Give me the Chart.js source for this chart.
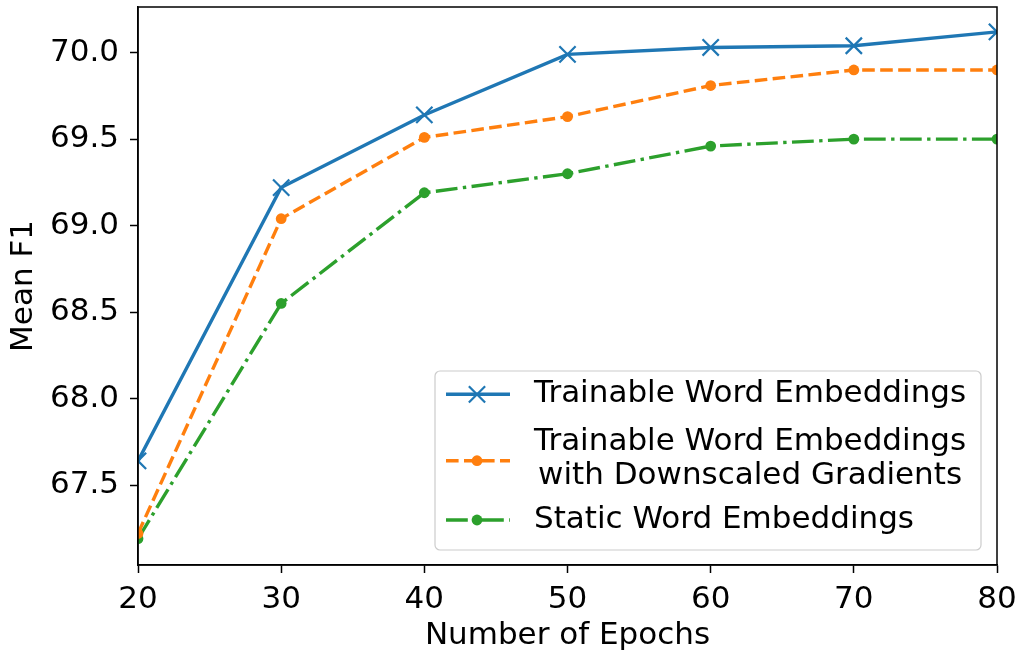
<!DOCTYPE html>
<html lang="en">
  <head>
    <meta charset="UTF-8" />
    <title>Mean F1 vs Number of Epochs</title>
    <style>
      body { margin: 0; background: #fff; }
      #wrap { width: 1019px; height: 652px; }
    </style>
  </head>
  <body>
    <div id="wrap"><canvas id="graphic"></canvas></div>
    <script src="https://cdn.jsdelivr.net/npm/chart.js"></script>
    <script>
      // datos
      const epochs = [20, 30, 40, 50, 60, 70, 80];
      const trainable = [67.64, 69.22, 69.64, 69.99, 70.03, 70.04, 70.12];
      const downscaled = [67.22, 69.04, 69.51, 69.63, 69.81, 69.9, 69.9];
      const staticEmb = [67.19, 68.55, 69.19, 69.3, 69.46, 69.5, 69.5];
      const seriesNames = [
        "Trainable Word Embeddings",
        "Trainable Word Embeddings\nwith Downscaled Gradients",
        "Static Word Embeddings",
      ];
      const xTicks = [20, 30, 40, 50, 60, 70, 80];
      const yTicks = [67.5, 68.0, 68.5, 69.0, 69.5, 70.0];

      const FONT = "'DejaVu Sans', sans-serif";
      Chart.defaults.font.family = FONT;
      Chart.defaults.color = "#000";

      const pts = (arr) => epochs.map((e, i) => ({ x: e, y: arr[i] }));

      // marco completo del area de la grafica
      const frame = {
        id: "frame",
        afterDraw(chart) {
          const { ctx, chartArea: a } = chart;
          ctx.save();
          ctx.strokeStyle = "#000";
          ctx.lineWidth = 1.5;
          ctx.strokeRect(a.left, a.top, a.right - a.left, a.bottom - a.top);
          ctx.restore();
        },
      };

      // leyenda dentro del area, abajo a la derecha
      const insideLegend = {
        id: "insideLegend",
        afterDatasetsDraw(chart) {
          const { ctx } = chart;
          const box = { x: 435, y: 371, w: 546, h: 179 };
          ctx.save();
          ctx.beginPath();
          ctx.roundRect(box.x, box.y, box.w, box.h, 5);
          ctx.fillStyle = "rgba(255,255,255,0.8)";
          ctx.fill();
          ctx.strokeStyle = "#cccccc";
          ctx.lineWidth = 1.2;
          ctx.stroke();

          const rows = [394.3, 460.7, 520];
          const textRows = [394.3, 458.5, 520];
          ctx.font = "31px " + FONT;
          ctx.textBaseline = "middle";
          chart.data.datasets.forEach((ds, i) => {
            const y = rows[i];
            ctx.save();
            ctx.strokeStyle = ds.borderColor;
            ctx.lineWidth = ds.borderWidth;
            ctx.setLineDash(ds.borderDash || []);
            ctx.beginPath();
            ctx.moveTo(446, y);
            ctx.lineTo(510, y);
            ctx.stroke();
            ctx.setLineDash([]);
            ctx.fillStyle = ds.borderColor;
            ctx.strokeStyle = ds.borderColor;
            ctx.lineWidth = ds.pointBorderWidth || 0.01;
            Chart.helpers.drawPoint(
              ctx,
              {
                pointStyle: ds.pointStyle,
                radius: ds.pointRadius,
                borderWidth: ds.pointBorderWidth,
                rotation: 0,
              },
              477,
              y
            );
            ctx.restore();
            ctx.fillStyle = "#000";
            const lines = seriesNames[i].split("\n");
            const lh = 34;
            const widths = lines.map((l) => ctx.measureText(l).width);
            const maxW = Math.max(...widths);
            lines.forEach((l, k) => {
              const ty = textRows[i] - ((lines.length - 1) * lh) / 2 + k * lh;
              ctx.fillText(l, 534 + (maxW - widths[k]) / 2, ty);
            });
          });
          ctx.restore();
        },
      };

      const lienzo = document.getElementById("graphic");
      new Chart(lienzo, {
        type: "line",
        data: {
          datasets: [
            {
              label: seriesNames[0],
              data: pts(trainable),
              borderColor: "#1f77b4",
              backgroundColor: "#1f77b4",
              borderWidth: 3.4,
              pointStyle: "crossRot",
              pointRadius: 11.5,
              pointBorderWidth: 2.2,
            },
            {
              label: seriesNames[1],
              data: pts(downscaled),
              borderColor: "#ff7f0e",
              backgroundColor: "#ff7f0e",
              borderWidth: 3.4,
              borderDash: [12.6, 5.4],
              pointStyle: "circle",
              pointRadius: 5.4,
              pointBorderWidth: 0,
            },
            {
              label: seriesNames[2],
              data: pts(staticEmb),
              borderColor: "#2ca02c",
              backgroundColor: "#2ca02c",
              borderWidth: 3.4,
              borderDash: [21.8, 5.4, 3.4, 5.4],
              pointStyle: "circle",
              pointRadius: 5.4,
              pointBorderWidth: 0,
            },
          ],
        },
        options: {
          responsive: true,
          maintainAspectRatio: false,
          animation: false,
          layout: { autoPadding: false, padding: { left: 0, right: 22, top: 7, bottom: 0 } },
          plugins: { legend: { display: false }, tooltip: { enabled: false } },
          scales: {
            x: {
              type: "linear",
              min: 20,
              max: 80,
              afterBuildTicks: (s) => { s.ticks = xTicks.map((v) => ({ value: v })); },
              afterFit: (s) => { s.height = 87; s.paddingLeft = 0; s.paddingRight = 0; },
              grid: { drawOnChartArea: false, drawTicks: true, tickLength: 8, tickWidth: 1.5, color: "#000" },
              border: { color: "#000", width: 1.5 },
              ticks: { font: { size: 31 }, padding: 8, maxRotation: 0 },
              title: { display: true, text: "Number of Epochs", font: { size: 31 }, padding: { top: 0, bottom: -2.6 } },
            },
            y: {
              min: 67.038,
              max: 70.264,
              afterBuildTicks: (s) => { s.ticks = yTicks.map((v) => ({ value: v })); },
              afterFit: (s) => { s.width = 138; s.paddingTop = 0; s.paddingBottom = 0; },
              grid: { drawOnChartArea: false, drawTicks: true, tickLength: 8, tickWidth: 1.5, color: "#000" },
              border: { color: "#000", width: 1.5 },
              ticks: { font: { size: 31 }, padding: 11, callback: (v) => v.toFixed(1) },
              title: { display: true, text: "Mean F1", font: { size: 31 }, padding: { top: 5.4, bottom: 0 } },
            },
          },
        },
        plugins: [insideLegend, frame],
      });
    </script>
  </body>
</html>
